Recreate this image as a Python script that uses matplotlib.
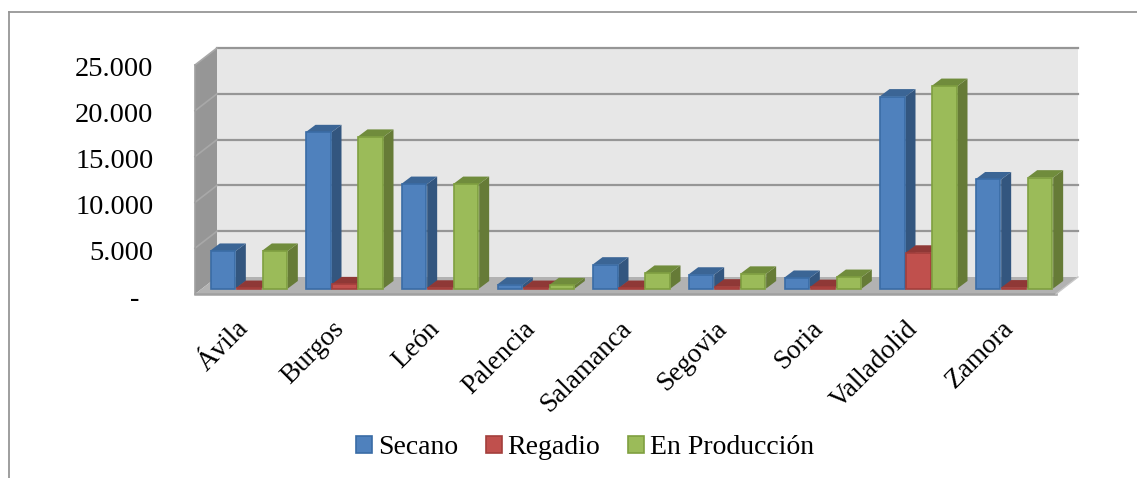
"""
Superficie por provincia (Castilla y León): bar chart with an Excel style
3D look, drawn with flat bars plus polygons for the depth.
"""

import matplotlib
matplotlib.use('Agg')
import matplotlib.pyplot as plt
from matplotlib.lines import Line2D
from matplotlib.patches import Patch, Polygon
from matplotlib.transforms import ScaledTranslation
import numpy as np

provincias = ['Ávila', 'Burgos', 'León', 'Palencia', 'Salamanca',
              'Segovia', 'Soria', 'Valladolid', 'Zamora']
secano = [4100, 17050, 11400, 400, 2600, 1500, 1150, 20950, 11900]
regadio = [50, 450, 80, 50, 50, 200, 150, 3900, 100]
produccion = [4100, 16550, 11400, 350, 1700, 1600, 1250, 22100, 12100]
nombres = ['Secano', 'Regadio', 'En Producción']

y_ticks = [0, 5000, 10000, 15000, 20000, 25000]
y_labels = ['-  ', '5.000', '10.000', '15.000', '20.000', '25.000']

# front, edge, side, top
colores = [
    ('#4f81bd', '#3a6ca5', '#33567f', '#3b6595'),
    ('#c0504d', '#a33f3c', '#8a3331', '#8f3836'),
    ('#9bbb59', '#7f9f40', '#667b37', '#708c3c'),
]

W, H = 1137, 478
FONT = 'Liberation Serif'

# depth of the whole box, in data units (22 px and 17 px)
BOX_DX = 22 / 95.67
BOX_DY = 17 / 45.8 * 5000
# where the bars sit inside the box and how deep they are
BAR_DX = 6 / 95.67
BAR_DY = 5.5 / 45.8 * 5000
DEPTH_DX = 10 / 95.67
DEPTH_DY = 7.5 / 45.8 * 5000
BAR_W = 26 / 95.67

fig = plt.figure(figsize=(W / 100, H / 100), dpi=100)
ax = fig.add_axes([195 / W, 1 - 294 / H, 861 / W, 229 / H])
ax.set_xlim(0, len(provincias))
ax.set_ylim(0, 25000)
for s in ax.spines.values():
    s.set_visible(False)
ax.patch.set_visible(False)

# --- Chart border (top and left only show in the picture) ---
borde = '#969696'
fig.add_artist(Line2D([9 / W, 9 / W], [0, 1 - 12 / H], color=borde, lw=1.3))
fig.add_artist(Line2D([9 / W, 1], [1 - 12 / H, 1 - 12 / H], color=borde, lw=1.3))


def caja(pts, color, z, edge='none', lw=0):
    ax.add_patch(Polygon(pts, closed=True, facecolor=color, edgecolor=edge,
                         linewidth=lw, zorder=z, clip_on=False))


# --- Walls and floor ---
n = len(provincias)
top = y_ticks[-1]
caja([(BOX_DX, BOX_DY), (n + BOX_DX, BOX_DY), (n + BOX_DX, top + BOX_DY), (BOX_DX, top + BOX_DY)],
     '#e7e7e7', 1)
caja([(0, 0), (BOX_DX, BOX_DY), (BOX_DX, top + BOX_DY), (0, top)], '#969696', 1.5)
caja([(0, 0), (n, 0), (n + BOX_DX, BOX_DY), (BOX_DX, BOX_DY)], '#b2b2b2', 1.5)
ax.plot([0, n], [0, 0], color='#a0a0a0', lw=1.8, zorder=2, clip_on=False)
ax.plot([n, n + BOX_DX], [0, BOX_DY], color='#c8c8c8', lw=1, zorder=2, clip_on=False)

for v in y_ticks:
    if v > 0:
        ax.plot([BOX_DX, n + BOX_DX], [v + BOX_DY, v + BOX_DY], color='#969696',
                lw=1.6, zorder=2, clip_on=False)
        ax.plot([0, BOX_DX], [v, v + BOX_DY], color='#a8a8a8', lw=1.2, zorder=2,
                clip_on=False)
ax.plot([0, 0], [0, top], color='#a0a0a0', lw=1.2, zorder=2, clip_on=False)

# --- Bars, series by series so nearer faces cover the side of the previous one ---
series = [secano, regadio, produccion]
x = np.arange(n) + 0.5
for j, valores in enumerate(series):
    frente, linea, lado, tapa = colores[j]
    xs = x + (j - 1) * BAR_W + BAR_DX
    z = 3 + j * 2
    ax.bar(xs, valores, width=BAR_W - 1.5 / 95.67, bottom=BAR_DY, color=frente,
           edgecolor=linea, linewidth=1.2, zorder=z + 1)
    for xc, v in zip(xs, valores):
        x0, x1 = xc - BAR_W / 2, xc + BAR_W / 2
        y0, y1 = BAR_DY, BAR_DY + v
        caja([(x1, y0), (x1 + DEPTH_DX, y0 + DEPTH_DY), (x1 + DEPTH_DX, y1 + DEPTH_DY), (x1, y1)],
             lado, z)
        caja([(x0, y1), (x1, y1), (x1 + DEPTH_DX, y1 + DEPTH_DY), (x0 + DEPTH_DX, y1 + DEPTH_DY)],
             tapa, z)

# --- Axes text ---
ax.set_yticks(y_ticks)
ax.set_yticklabels(y_labels, fontsize=20.5, family=FONT, color='black')
ax.tick_params(axis='y', length=0, pad=30)
baja = ScaledTranslation(0, -2 / 100, fig.dpi_scale_trans)
for lab in ax.get_yticklabels():
    lab.set_transform(lab.get_transform() + baja)

ax.set_xticks(x)
ax.set_xticklabels(provincias, fontsize=19.5, family=FONT, rotation=45, ha='right',
                   rotation_mode='anchor')
ax.tick_params(axis='x', length=0, pad=16)
izquierda = ScaledTranslation(-7 / 100, 0, fig.dpi_scale_trans)
for lab in ax.get_xticklabels():
    lab.set_transform(lab.get_transform() + izquierda)

handles = [Patch(facecolor=c[0], edgecolor=c[1], linewidth=1.2) for c in colores]
ax.legend(handles, nombres, ncol=3, frameon=False, loc='center',
          bbox_to_anchor=(585 / W, 1 - 448 / H), bbox_transform=fig.transFigure,
          prop={'family': FONT, 'size': 20}, handlelength=0.58, handleheight=0.55,
          handletextpad=0.2, columnspacing=1.0, borderpad=0)

plt.savefig('out.png', dpi=100)
plt.close()
